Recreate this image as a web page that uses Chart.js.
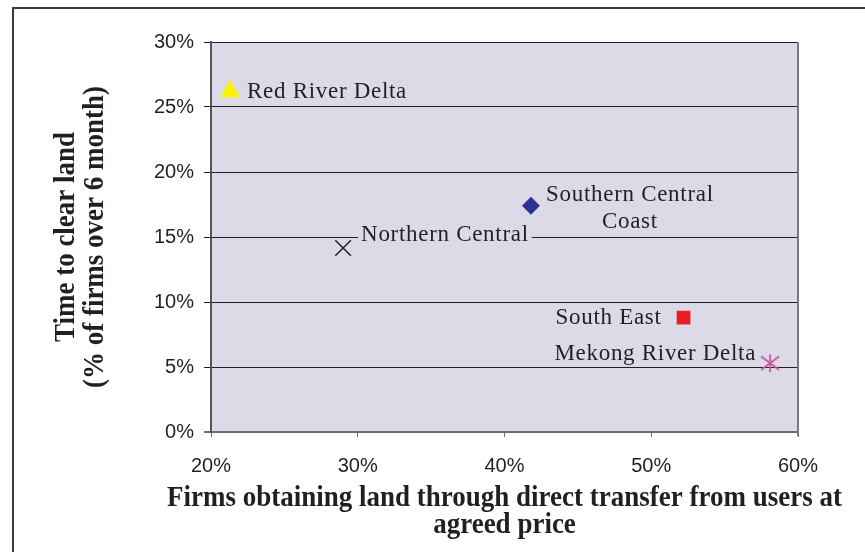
<!DOCTYPE html>
<html>
<head>
<meta charset="utf-8">
<script src="https://cdn.jsdelivr.net/npm/chart.js@4.4.0/dist/chart.umd.min.js"></script>
<style>
  html, body { margin: 0; padding: 0; background: #fff; }
  canvas { display: block; }
</style>
</head>
<body>
<canvas id="land-chart" width="865" height="552"></canvas>
<script>
// --- DATA ---
const regions = ['Red River Delta', 'Southern Central Coast', 'Northern Central', 'South East', 'Mekong River Delta'];
const directTransfer = [21.3, 41.8, 29.0, 52.2, 58.1];   // x: % of firms, direct transfer
const clearTime = [26.2, 17.4, 14.15, 8.8, 5.3];         // y: % of firms over 6 months
const xTicks = [20, 30, 40, 50, 60];
const yTicks = [0, 5, 10, 15, 20, 25, 30];

const xTitle = ['Firms obtaining land through direct transfer from users at', 'agreed price'];
const yTitle = ['Time to clear land', '(% of firms over 6 month)'];

const INK = '#231f20';
const PLOT_BG = '#dcdae6';
const TITLE_FONT = 'bold 27px "Liberation Serif", "Times New Roman", serif';
const TITLE_STRETCH = 1.12; // source titles look vertically stretched

// Excel-like asterisk marker (vertical bar + X)
function makeStar(color) {
    const c = document.createElement('canvas');
    c.width = 22; c.height = 22;
    const g = c.getContext('2d');
    g.strokeStyle = color;
    g.lineWidth = 1.8;
    g.beginPath();
    g.moveTo(11, 2); g.lineTo(11, 20);
    g.moveTo(2, 4.2); g.lineTo(20, 17.8);
    g.moveTo(2, 17.8); g.lineTo(20, 4.2);
    g.stroke();
    return c;
}

// Marker look per region
const markers = [
    { style: 'triangle', radius: 11.5, color: '#fff200' },
    { style: 'rectRot', radius: 9, color: '#2e3192' },
    { style: 'crossRot', radius: 11, color: INK, border: 1.5 },
    { style: 'rect', radius: 9.7, color: '#ed1c24' },
    { style: makeStar('#c45aa6'), radius: 10, color: '#c45aa6' }
];

// Label placement relative to the marker (pixels)
const labelPos = [
    { lines: ['Red River Delta'], dx: 17, dy: [1], align: 'left' },
    { lines: ['Southern Central', 'Coast'], dx: 99, dy: [-11, 16], align: 'center' },
    { lines: ['Northern Central'], dx: 18, dy: [-13], align: 'left', bg: true },
    { lines: ['South East'], dx: -22, dy: [0], align: 'right' },
    { lines: ['Mekong River Delta'], dx: -14, dy: [-9], align: 'right' }
];

function stretchedText(ctx, text, x, y, angle) {
    ctx.save();
    ctx.translate(x, y);
    if (angle) ctx.rotate(angle);
    ctx.scale(1, TITLE_STRETCH);
    ctx.fillText(text, 0, 0);
    ctx.restore();
}

// --- PLUGINS ---
const framePlugin = {
    id: 'frame',
    beforeDraw(chart) {
        const { ctx, chartArea: a } = chart;
        ctx.save();
        ctx.fillStyle = PLOT_BG;
        ctx.fillRect(a.left, a.top, a.right - a.left, a.bottom - a.top);
        // outer picture frame (top + left only visible)
        ctx.strokeStyle = '#3a3a3a';
        ctx.lineWidth = 2;
        ctx.beginPath();
        ctx.moveTo(13, 560);
        ctx.lineTo(13, 8);
        ctx.lineTo(870, 8);
        ctx.stroke();
        ctx.restore();
    },
    afterDraw(chart) {
        const { ctx, chartArea: a } = chart;
        ctx.save();
        ctx.strokeStyle = '#7a7a7a';
        ctx.lineWidth = 2;
        ctx.beginPath();
        ctx.moveTo(a.right, a.top);
        ctx.lineTo(a.right, a.bottom + 4);
        ctx.stroke();

        // axis titles, drawn here so they can run wider than the plot area
        ctx.font = TITLE_FONT;
        ctx.fillStyle = INK;
        ctx.textAlign = 'center';
        ctx.textBaseline = 'middle';
        const cx = (a.left + a.right) / 2;
        const cy = (a.top + a.bottom) / 2;
        xTitle.forEach((line, j) => stretchedText(ctx, line, cx, a.bottom + 66 + j * 27, 0));
        yTitle.forEach((line, j) => stretchedText(ctx, line, 66 + j * 29, cy, -Math.PI / 2));
        ctx.restore();
    }
};

const labelPlugin = {
    id: 'pointLabels',
    afterDatasetsDraw(chart) {
        const ctx = chart.ctx;
        ctx.save();
        ctx.font = '23px "Liberation Serif", "Times New Roman", serif';
        if ('letterSpacing' in ctx) ctx.letterSpacing = '0.7px';
        ctx.textBaseline = 'middle';
        labelPos.forEach((lp, i) => {
            const pt = chart.getDatasetMeta(i).data[0];
            if (!pt) return;
            ctx.textAlign = lp.align;
            lp.lines.forEach((line, j) => {
                const x = pt.x + lp.dx;
                const y = pt.y + lp.dy[j];
                if (lp.bg) {
                    const w = ctx.measureText(line).width;
                    const left = lp.align === 'left' ? x : (lp.align === 'right' ? x - w : x - w / 2);
                    ctx.fillStyle = PLOT_BG;
                    ctx.fillRect(left - 3, y - 11, w + 6, 22);
                }
                ctx.fillStyle = INK;
                ctx.fillText(line, x, y);
            });
        });
        ctx.restore();
    }
};

// --- CHART ---
const datasets = regions.map((name, i) => ({
    label: name,
    data: [{ x: directTransfer[i], y: clearTime[i] }],
    pointStyle: markers[i].style,
    pointRadius: markers[i].radius,
    pointHoverRadius: markers[i].radius,
    backgroundColor: markers[i].color,
    borderColor: markers[i].color,
    pointBorderWidth: markers[i].border || 0
}));

const tickFont = { family: '"Liberation Sans", Arial, sans-serif', size: 20 };

new Chart(document.getElementById('land-chart'), {
    type: 'scatter',
    data: { datasets },
    plugins: [framePlugin, labelPlugin],
    options: {
        responsive: false,
        animation: false,
        devicePixelRatio: 1,
        layout: { padding: { top: 42, right: 67, left: 0, bottom: 0 } },
        plugins: {
            legend: { display: false },
            tooltip: { enabled: false }
        },
        scales: {
            x: {
                type: 'linear',
                min: xTicks[0],
                max: xTicks[xTicks.length - 1],
                afterFit: (s) => { s.height = 120; },
                ticks: {
                    stepSize: xTicks[1] - xTicks[0],
                    padding: 17,
                    color: INK,
                    font: tickFont,
                    callback: (v) => v + '%'
                },
                grid: {
                    drawOnChartArea: false,
                    drawTicks: true,
                    tickLength: 5,
                    color: '#6d6d6d'
                },
                border: { color: '#6d6d6d', width: 2 },
                title: { display: false }
            },
            y: {
                min: yTicks[0],
                max: yTicks[yTicks.length - 1],
                afterFit: (s) => { s.width = 211; },
                ticks: {
                    stepSize: yTicks[1] - yTicks[0],
                    padding: 10,
                    color: INK,
                    font: tickFont,
                    callback: (v) => v + '%'
                },
                grid: {
                    tickLength: 7,
                    color: (c) => (c.tick && c.tick.value === 0 ? '#6d6d6d' : INK),
                    lineWidth: (c) => (c.tick && c.tick.value === 0 ? 2 : 1)
                },
                border: { color: '#555555', width: 2 },
                title: { display: false }
            }
        }
    }
});
</script>
</body>
</html>
